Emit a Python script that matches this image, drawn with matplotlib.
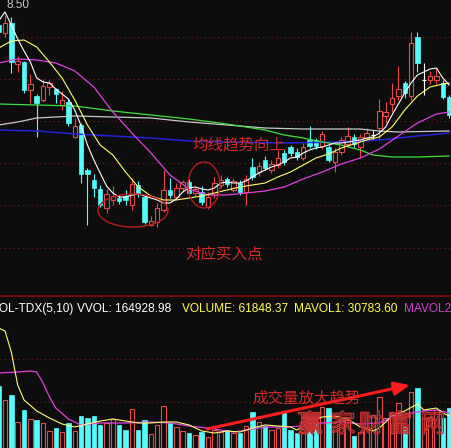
import matplotlib
matplotlib.use("Agg")
import matplotlib.pyplot as plt
from matplotlib.patches import Rectangle, Ellipse
from matplotlib.lines import Line2D
from matplotlib import patheffects
import numpy as np

# ---- daily bars ----
opens = [8.30, 8.22, 8.32, 7.91, 7.93, 7.65, 7.59, 7.55, 7.68, 7.66,
         7.50, 7.53, 7.18, 7.30, 6.85, 6.75, 6.66, 6.47, 6.55, 6.57,
         6.59, 6.50, 6.70, 6.58, 6.30, 6.33, 6.45, 6.65, 6.58, 6.67,
         6.73, 6.62, 6.63, 6.48, 6.60, 6.70, 6.76, 6.65, 6.72, 6.63,
         6.88, 6.83, 6.95, 6.85, 6.90, 7.02, 7.08, 7.03, 6.97, 7.15,
         7.15, 7.09, 7.08, 6.93, 7.03, 7.11, 7.18, 7.08, 7.17, 7.20,
         7.27, 7.39, 7.51, 7.59, 7.72, 7.59, 8.18, 7.75, 7.75, 7.75,
         7.72, 7.58]
highs = [8.33, 8.40, 8.38, 7.99, 7.94, 7.81, 7.61, 7.76, 7.75, 7.67,
         7.64, 7.56, 7.37, 7.32, 6.87, 6.81, 6.70, 6.66, 6.69, 6.60,
         6.65, 6.77, 6.74, 6.60, 6.39, 6.52, 6.85, 6.77, 6.72, 6.75,
         6.76, 6.68, 6.69, 6.63, 6.78, 6.80, 6.78, 6.77, 6.75, 6.80,
         6.97, 6.93, 6.99, 6.95, 7.05, 7.05, 7.10, 7.07, 7.12, 7.29,
         7.17, 7.24, 7.10, 7.07, 7.18, 7.28, 7.21, 7.21, 7.27, 7.25,
         7.56, 7.53, 7.72, 7.89, 7.74, 8.23, 8.23, 7.92, 7.84, 7.87,
         7.75, 7.60]
lows = [8.21, 8.18, 7.82, 7.83, 7.62, 7.52, 7.18, 7.53, 7.60, 7.52,
        7.45, 7.29, 7.17, 6.72, 6.30, 6.58, 6.48, 6.42, 6.50, 6.51,
        6.50, 6.45, 6.58, 6.31, 6.29, 6.28, 6.43, 6.57, 6.56, 6.63,
        6.60, 6.59, 6.50, 6.46, 6.57, 6.67, 6.68, 6.63, 6.60, 6.50,
        6.75, 6.79, 6.85, 6.82, 6.87, 6.90, 6.99, 6.95, 6.95, 7.07,
        7.06, 7.06, 6.93, 6.83, 7.00, 7.08, 7.08, 6.97, 7.15, 7.15,
        7.15, 7.32, 7.43, 7.55, 7.57, 7.55, 7.83, 7.60, 7.71, 7.71,
        7.56, 7.37]
closes = [8.23, 8.32, 7.93, 7.94, 7.65, 7.71, 7.52, 7.69, 7.72, 7.61,
          7.55, 7.32, 7.29, 6.81, 6.81, 6.67, 6.50, 6.61, 6.59, 6.54,
          6.55, 6.71, 6.62, 6.33, 6.34, 6.47, 6.65, 6.60, 6.67, 6.73,
          6.62, 6.66, 6.53, 6.58, 6.72, 6.75, 6.71, 6.74, 6.63, 6.76,
          6.78, 6.89, 6.87, 6.91, 6.97, 6.93, 7.02, 6.98, 7.08, 7.09,
          7.09, 7.21, 6.95, 7.03, 7.15, 7.19, 7.11, 7.18, 7.22, 7.20,
          7.44, 7.43, 7.57, 7.66, 7.62, 8.12, 7.92, 7.75, 7.79, 7.79,
          7.58, 7.40]
volumes = [95900, 74200, 81900, 40200, 58800, 44800, 43300, 38700, 26300, 30900,
           24700, 38700, 26300, 49500, 46400, 49500, 35600, 38700, 44800, 35600,
           27800, 60300, 27800, 43300, 21600, 35600, 64900, 38700, 32500, 26300,
           23200, 20100, 24700, 17000, 27800, 24700, 27800, 23200, 23200, 34000,
           55700, 40200, 34000, 27800, 30900, 55700, 27800, 23200, 46400, 44800,
           38700, 63400, 61800, 32500, 43300, 43300, 18600, 24700, 32500, 51000,
           78900, 46400, 55700, 69600, 32500, 86600, 92800, 46400, 47900, 58800,
           46400, 61848.37]

# ---- moving averages (bar index, value) ----
ma5 = [8.34, 8.43, 8.30, 8.16, 8.04, 7.93, 7.77, 7.73, 7.72, 7.66,
       7.61, 7.56, 7.45, 7.29, 7.10, 6.95, 6.82, 6.69, 6.62, 6.58,
       6.58, 6.60, 6.61, 6.59, 6.57, 6.55, 6.52, 6.52, 6.56, 6.63,
       6.67, 6.68, 6.66, 6.65, 6.67, 6.72, 6.73, 6.72, 6.72, 6.74,
       6.78, 6.82, 6.85, 6.88, 6.90, 6.93, 6.97, 6.98, 7.02, 7.05,
       7.07, 7.08, 7.10, 7.12, 7.12, 7.13, 7.14, 7.15, 7.17, 7.18,
       7.22, 7.28, 7.40, 7.51, 7.62, 7.72, 7.80, 7.83, 7.86, 7.87,
       7.77, 7.70]
ma10_idx = list(range(0, 71, 2)) + [71]
ma10 = [8.07, 8.14, 8.15, 8.08, 7.93, 7.77, 7.55, 7.30, 7.10, 7.00,
        6.83, 6.68, 6.59, 6.55, 6.55, 6.57, 6.59, 6.62, 6.65, 6.68,
        6.70, 6.72, 6.78, 6.83, 6.90, 6.97, 7.01, 7.07, 7.11, 7.15,
        7.18, 7.28, 7.45, 7.59, 7.68, 7.71, 7.72]
ma20_idx = list(range(0, 70, 3)) + [71]
ma20 = [7.92, 7.96, 7.95, 7.92, 7.84, 7.68, 7.43, 7.22, 7.02, 6.80,
        6.66, 6.60, 6.60, 6.62, 6.64, 6.68, 6.76, 6.83, 6.91, 6.97,
        7.06, 7.19, 7.32, 7.41, 7.43]
ma60_idx = [0, 6, 12, 18, 24, 30, 36, 42, 45, 48, 51, 54, 57, 59, 62, 66, 71]
ma60 = [7.51, 7.50, 7.49, 7.44, 7.40, 7.36, 7.31, 7.25, 7.20, 7.17,
        7.13, 7.10, 7.05, 7.00, 6.98, 6.98, 6.99]
ma120_idx = [0, 3, 6, 12, 18, 24, 30, 36, 42, 48, 57, 60, 63, 71]
ma120 = [7.30, 7.33, 7.37, 7.39, 7.38, 7.37, 7.33, 7.30, 7.27, 7.26,
         7.26, 7.24, 7.23, 7.24]
ma250_idx = [0, 6, 12, 18, 24, 30, 36, 45, 54, 60, 66, 71]
ma250 = [7.25, 7.24, 7.21, 7.19, 7.17, 7.14, 7.13, 7.12, 7.13, 7.15,
         7.19, 7.22]

mavol1_idx = [0, 1, 2, 3, 4, 6, 8, 10, 12, 14, 16, 18, 20, 22, 24, 26, 28, 30, 32, 34,
              36, 38, 40, 42, 44, 46, 47, 49, 51, 53, 55, 57, 59, 60, 62, 64, 66, 67, 69, 70, 71]
mavol1 = [185500, 180900, 148400, 97400, 74200, 57200, 46400, 37100, 32500, 37100,
          41700, 44800, 41700, 38700, 38700, 40200, 40200, 35600, 26300, 23200,
          26300, 24700, 30900, 35600, 34000, 32500, 27800, 40200, 47900, 49500,
          44800, 32500, 26300, 30900, 49500, 57200, 68000, 58800, 61800, 54100, 49500]
mavol2_idx = [0, 3, 5, 6, 7, 8, 9, 11, 13, 16, 20, 24, 27, 30, 33, 37, 39, 42, 45, 48,
              51, 54, 57, 60, 62, 65, 67, 69, 71]
mavol2 = [116000, 117500, 119100, 117500, 100500, 78900, 61800, 44800, 35600, 38700,
          38700, 40200, 38700, 34000, 30900, 24700, 27800, 32500, 32500, 34000,
          38700, 40200, 37100, 38700, 47900, 54100, 57200, 58800, 54100]

price_grid = [8.18, 7.76, 7.34, 6.92, 6.50, 6.07]
vol_grid = [71100, 137600]

# ---- layout ----
W, H = 452, 448
BG = "#0d0d0d"
RED = "#e84848"
CYAN = "#54fcfc"
GRID = "#7d1a1a"
X0, DX = -1.35, 6.345          # pixel position of bar 0 and bar spacing
PRICE_TOP, PX_PER_YUAN = 8.55, 100.0
VOL_PER_PX = 1546.2
SPLIT = 296                     # pixel row of the panel divider
BW = 0.7


def fpx(x, y):
    return x / W, 1 - y / H


fig = plt.figure(figsize=(W / 100, H / 100), dpi=100, facecolor=BG)
ax = fig.add_axes([0, 1 - SPLIT / H, 1, SPLIT / H])
axv = fig.add_axes([0, 0, 1, (H - SPLIT - 1) / H])
for a in (ax, axv):
    a.set_facecolor(BG)
    a.axis("off")
    a.set_xlim((0 - X0) / DX, (W - X0) / DX)
ax.set_ylim(PRICE_TOP - SPLIT / PX_PER_YUAN, PRICE_TOP)
axv.set_ylim(0, (H - SPLIT - 1) * VOL_PER_PX)

for g in price_grid:
    ax.axhline(g, color=GRID, lw=0.8, ls=(0, (1, 3)), zorder=0)
for g in vol_grid:
    axv.axhline(g, color=GRID, lw=0.8, ls=(0, (1, 3)), zorder=0)

# candles
for i, (o, h, l, c) in enumerate(zip(opens, highs, lows, closes)):
    if c > o:
        ax.vlines(i, c, h, color=RED, lw=0.8, zorder=2)
        ax.vlines(i, l, o, color=RED, lw=0.8, zorder=2)
        ax.add_patch(Rectangle((i - BW / 2, o), BW, c - o, fc=BG, ec=RED, lw=0.8, zorder=2))
    elif c < o:
        ax.vlines(i, l, h, color=CYAN, lw=0.8, zorder=2)
        ax.add_patch(Rectangle((i - BW / 2, c), BW, o - c, fc=CYAN, ec=CYAN, lw=0.5, zorder=2))
    else:
        ax.vlines(i, l, h, color="white", lw=0.8, zorder=2)
        ax.hlines(o, i - BW / 2, i + BW / 2, color="white", lw=0.8, zorder=2)

# volume bars
for i, (o, c, v) in enumerate(zip(opens, closes, volumes)):
    if c >= o:
        axv.add_patch(Rectangle((i - BW / 2, 0), BW, v, fc=BG, ec=RED, lw=0.8, zorder=2))
    else:
        axv.add_patch(Rectangle((i - BW / 2, 0), BW, v, fc=CYAN, ec=CYAN, lw=0.5, zorder=2))

# moving average lines
ax.plot(ma250_idx, ma250, color="#2424d8", lw=1.1, zorder=3)
ax.plot(ma120_idx, ma120, color="#c8c8c8", lw=0.9, zorder=3)
ax.plot(ma60_idx, ma60, color="#3ee03e", lw=0.9, zorder=3)
ax.plot(ma20_idx, ma20, color="#e040e0", lw=0.9, zorder=3)
ax.plot(ma10_idx, ma10, color="#ffff70", lw=0.8, zorder=3)
ax.plot(range(len(ma5)), ma5, color="white", lw=0.8, zorder=4)

axv.plot(mavol2_idx, mavol2, color="#e040e0", lw=0.9, zorder=3)
axv.plot(mavol1_idx, mavol1, color="#ffff70", lw=0.8, zorder=4)

# divider and header
fig.add_artist(Line2D([0, 1], [1 - SPLIT / H] * 2, color="#8a0c0c", lw=1.2))
hdr = dict(va="center", ha="left", fontsize=8.6, family="Liberation Sans")
fig.text(*fpx(-8, 309), "VOL-TDX(5,10)", color="white", **hdr)
fig.text(*fpx(77, 309), "VVOL: 164928.98", color="white", **hdr)
fig.text(*fpx(182, 309), "VOLUME: 61848.37", color="#ffff50", **hdr)
fig.text(*fpx(294, 309), "MAVOL1: 30783.60", color="#ffff50", **hdr)
fig.text(*fpx(404, 309), "MAVOL2:", color="#d040d0", **hdr)
fig.text(*fpx(7, 8), "8.50", color="#c8c8c8", fontsize=8.5,
         family="Liberation Sans", va="baseline", ha="left")

# annotations
cjk = dict(family=["Noto Sans CJK SC", "DejaVu Sans"], fontsize=11.2,
           color="#d42a2a", ha="center", va="center")
fig.text(*fpx(239, 145), "均线趋势向上", **cjk)
fig.text(*fpx(224.5, 253.5), "对应买入点", **cjk)
fig.text(*fpx(307, 398), "成交量放大趋势", **cjk)

fig.add_artist(Ellipse(fpx(133, 210.5), 70 / W, 33 / H, transform=fig.transFigure,
                       fill=False, ec="#b81c1c", lw=1.0))
fig.add_artist(Ellipse(fpx(204, 185), 32 / W, 46 / H, transform=fig.transFigure,
                       fill=False, ec="#b81c1c", lw=1.0))

axv.annotate("", xy=fpx(410, 385), xytext=fpx(207, 429),
             xycoords="figure fraction", textcoords="figure fraction",
             arrowprops=dict(arrowstyle="-|>,head_length=0.94,head_width=0.4",
                             color="#ff1c1c", lw=2.2, shrinkA=0, shrinkB=0,
                             mutation_scale=10))

# watermark
for ch, x in zip("赢家财富网", [310, 343, 371, 400, 433]):
    fig.text(*fpx(x, 425), ch, family=["Noto Sans CJK SC"], fontsize=18,
             color="none", ha="center", va="center",
             path_effects=[patheffects.Stroke(linewidth=0.9, foreground="#c83030")])

fig.savefig("out.png", dpi=100, facecolor=BG)
